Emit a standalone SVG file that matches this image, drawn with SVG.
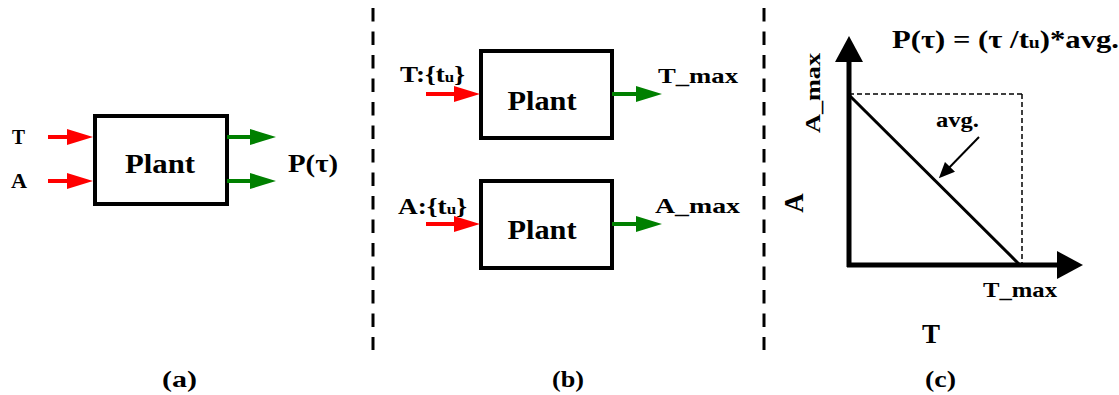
<svg xmlns="http://www.w3.org/2000/svg" width="1119" height="395" viewBox="0 0 1119 395">
<style>
text{font-family:"Liberation Serif","Times New Roman",serif;font-weight:bold;fill:#000}
.box{fill:#fff;stroke:#000;stroke-width:4}
.red{stroke:#ff0000;stroke-width:4;fill:none}
.green{stroke:#008000;stroke-width:4;fill:none}
.sep{stroke:#000;stroke-width:3;stroke-dasharray:13.5 10}
.axis{stroke:#000;stroke-width:5;fill:none}
</style>
<defs>
<marker id="ahR" markerUnits="userSpaceOnUse" markerWidth="26" markerHeight="16" refX="14" refY="8" orient="auto"><path d="M0,0 L26,8 L0,16 z" fill="#ff0000"/></marker>
<marker id="ahG" markerUnits="userSpaceOnUse" markerWidth="26" markerHeight="16" refX="14" refY="8" orient="auto"><path d="M0,0 L26,8 L0,16 z" fill="#008000"/></marker>
<marker id="ahK" markerUnits="userSpaceOnUse" markerWidth="28" markerHeight="28" refX="16" refY="14" orient="auto"><path d="M0,0 L26,14 L0,28 z" fill="#000"/></marker>
<marker id="ahS" markerUnits="userSpaceOnUse" markerWidth="16" markerHeight="14" refX="10" refY="7" orient="auto"><path d="M0,0 L16,7 L0,14 z" fill="#000"/></marker>
</defs>

<g id="separators">
<line class="sep" x1="373" y1="8" x2="373" y2="350"/>
<line class="sep" x1="764" y1="8" x2="764" y2="350"/>
</g>

<g id="plant-a">
<rect class="box" x="95" y="116" width="132" height="88"/>
<text x="160" y="173" font-size="28" text-anchor="middle" textLength="70" lengthAdjust="spacingAndGlyphs">Plant</text>
</g>
<g id="plant-b1">
<rect class="box" x="481" y="51" width="131" height="87"/>
<text x="542" y="110" font-size="27" text-anchor="middle" textLength="69" lengthAdjust="spacingAndGlyphs">Plant</text>
</g>
<g id="plant-b2">
<rect class="box" x="481" y="181" width="131" height="87"/>
<text x="542" y="239" font-size="27" text-anchor="middle" textLength="69" lengthAdjust="spacingAndGlyphs">Plant</text>
</g>

<g id="connectors">
<line class="red" x1="48" y1="137" x2="81" y2="137" marker-end="url(#ahR)"/>
<line class="red" x1="48" y1="181" x2="81" y2="181" marker-end="url(#ahR)"/>
<line class="green" x1="227" y1="137" x2="264" y2="137" marker-end="url(#ahG)"/>
<line class="green" x1="227" y1="181" x2="264" y2="181" marker-end="url(#ahG)"/>
<line class="red" x1="426" y1="94" x2="468" y2="94" marker-end="url(#ahR)"/>
<line class="red" x1="426" y1="224" x2="468" y2="224" marker-end="url(#ahR)"/>
<line class="green" x1="612" y1="94" x2="650" y2="94" marker-end="url(#ahG)"/>
<line class="green" x1="612" y1="224" x2="650" y2="224" marker-end="url(#ahG)"/>
</g>

<g id="labels-a">
<text x="12" y="144" font-size="22" textLength="13" lengthAdjust="spacingAndGlyphs">T</text>
<text x="11" y="188" font-size="22" textLength="16" lengthAdjust="spacingAndGlyphs">A</text>
<text x="288" y="172" font-size="26" textLength="50" lengthAdjust="spacingAndGlyphs">P(τ)</text>
<text x="162" y="387" font-size="24" textLength="35" lengthAdjust="spacingAndGlyphs">(a)</text>
</g>

<g id="labels-b">
<text x="400" y="82" font-size="24" textLength="65" lengthAdjust="spacingAndGlyphs">T:{t<tspan font-size="15">u</tspan>}</text>
<text x="398" y="214" font-size="24" textLength="69" lengthAdjust="spacingAndGlyphs">A:{t<tspan font-size="15">u</tspan>}</text>
<text x="658" y="83" font-size="22" textLength="80" lengthAdjust="spacingAndGlyphs">T_max</text>
<text x="655" y="213" font-size="22" textLength="85" lengthAdjust="spacingAndGlyphs">A_max</text>
<text x="552" y="387" font-size="24" textLength="32" lengthAdjust="spacingAndGlyphs">(b)</text>
</g>

<g id="graph-c">
<line class="axis" x1="849" y1="267" x2="849" y2="46" marker-end="url(#ahK)"/>
<line class="axis" x1="847" y1="265" x2="1073" y2="265" marker-end="url(#ahK)"/>
<line x1="849" y1="94" x2="1022" y2="94" stroke="#000" stroke-width="1.5" stroke-dasharray="5 3"/>
<line x1="1022" y1="94" x2="1022" y2="265" stroke="#000" stroke-width="1.5" stroke-dasharray="5 3"/>
<line x1="849" y1="95" x2="1020" y2="265" stroke="#000" stroke-width="3"/>
<line x1="979" y1="137" x2="943" y2="174" stroke="#000" stroke-width="2" marker-end="url(#ahS)"/>
<text x="936" y="127" font-size="21" textLength="43" lengthAdjust="spacingAndGlyphs">avg.</text>
<text transform="translate(820,93) rotate(-90)" font-size="21" text-anchor="middle" textLength="80" lengthAdjust="spacingAndGlyphs">A_max</text>
<text transform="translate(803,203) rotate(-90)" font-size="27" text-anchor="middle">A</text>
<text x="983" y="297" font-size="21" textLength="74" lengthAdjust="spacingAndGlyphs">T_max</text>
<text x="931" y="343" font-size="27" text-anchor="middle">T</text>
<text x="892" y="48" font-size="25" textLength="227" lengthAdjust="spacingAndGlyphs">P(τ) = (τ /t<tspan font-size="16">u</tspan>)*avg.</text>
<text x="925" y="387" font-size="24" textLength="31" lengthAdjust="spacingAndGlyphs">(c)</text>
</g>
</svg>
